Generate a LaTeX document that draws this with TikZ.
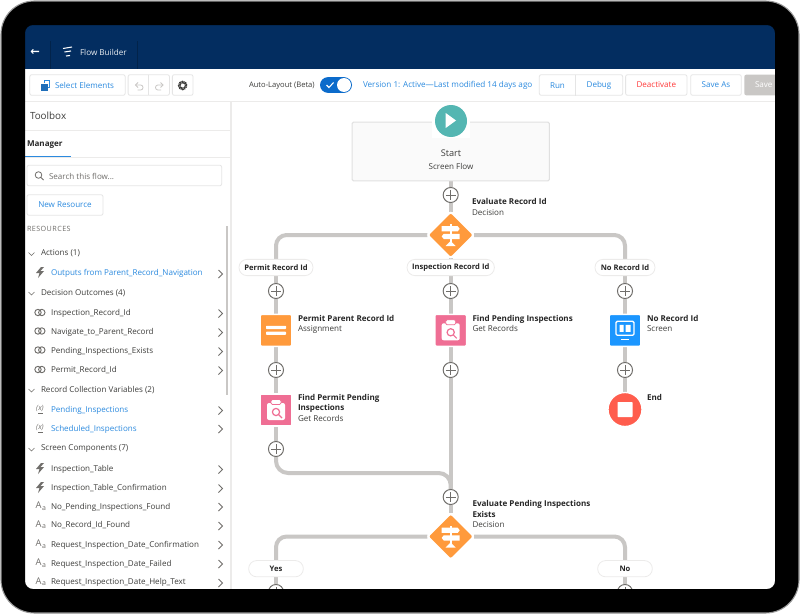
\documentclass[tikz,border=0pt]{standalone}
\usepackage{fontspec}
\setmainfont{Open Sans}
\newfontfamily\dejavu{DejaVu Sans}
\usetikzlibrary{shapes.geometric,arrows.meta}
\pgfdeclarelayer{bgl}
\pgfdeclarelayer{linkl}
\pgfsetlayers{bgl,linkl,main}
\definecolor{navy}{HTML}{032D60}
\definecolor{navyd}{HTML}{02234A}
\definecolor{linkblue}{HTML}{2B8ADF}
\definecolor{rule}{HTML}{ECEBEA}
\definecolor{btn}{HTML}{E5E5E5}
\definecolor{flowgray}{HTML}{C9C7C5}
\definecolor{orangeel}{HTML}{FF9A3C}
\definecolor{pinkel}{HTML}{EF6E94}
\definecolor{blueel}{HTML}{1B96FF}
\definecolor{redel}{HTML}{FF5D4D}
\definecolor{tealel}{HTML}{54B6B2}
\definecolor{txt}{HTML}{3E3E3C}
\definecolor{ico}{HTML}{706E6B}
\definecolor{togglec}{HTML}{0B6BCB}
\newcommand\fsm{\fontsize{6.05pt}{7.9pt}\selectfont}
\newcommand\fss{\fontsize{5.7pt}{7.9pt}\selectfont}
\newcommand\fsb{\fontsize{6.05pt}{7.9pt}\selectfont\bfseries}
\tikzset{
  x=.75pt,y=-.75pt,
  every node/.style={inner sep=0pt,outer sep=0pt},
  flowline/.style={draw=flowgray,line width=3pt},
  plusnode/.style={circle,draw=ico,fill=white,line width=.75pt,minimum size=11.3pt,
    path picture={\draw[ico,line width=.7pt] ([xshift=-3.6pt]path picture bounding box.center)--([xshift=3.6pt]path picture bounding box.center) ([yshift=-3.6pt]path picture bounding box.center)--([yshift=3.6pt]path picture bounding box.center);}},
  pill/.style={rectangle,rounded corners=6pt,draw=rule,fill=white,line width=.6pt,minimum height=12.2pt,font=\fss\bfseries,text=black!85},
  elem/.style={rectangle,rounded corners=1pt,minimum size=24pt,draw=white,line width=1.2pt},
  dec/.style={diamond,aspect=1,minimum size=35pt,fill=orangeel,draw=white,line width=1.5pt,rounded corners=2pt},
  lab/.style={anchor=north west,align=left,font=\fsm,text=txt,yshift=-1.9pt},
  btnbox/.style={rectangle,rounded corners=1.5pt,draw=btn,fill=white,line width=.6pt,minimum height=15.5pt},
  btntext/.style={font=\fsm,text=linkblue},
  rowtext/.style={anchor=west,font=\fsm,text=txt,yshift=-.7pt},
  chevr/.pic={\draw[ico,line width=.6pt] (-2,-4)--(2,0)--(-2,4);},
  chevd/.pic={\draw[ico,line width=.5pt] (-3,-1.5)--(0,1.5)--(3,-1.5);},
  bolt/.pic={\fill[ico] (1,-5)--(-4,1)--(-.5,1)--(-2,6)--(4,-1)--(.5,-1)--(4,-5)--cycle;},
  linkic/.pic={\draw[ico,line width=.7pt] (-2,0) circle (3.2) (1.8,0) circle (3.2);},
  varic/.pic={\node[font=\fontsize{5.4pt}{6pt}\selectfont\itshape,text=ico] at (0,-.5) {(x)};\fill[ico] (-2.5,3.5) rectangle (2.5,5);},
  aaic/.pic={\node[font=\fontsize{7pt}{7pt}\selectfont,text=ico] at (-1.5,-.5) {A};\node[font=\fontsize{5.2pt}{6pt}\selectfont,text=ico] at (4,2.5) {a};},
  signic/.pic={\fill[white] (-1,-11) rectangle (1,7);
    \fill[white] (-9,-8.8)--(7,-8.8)--(9,-6.2)--(7,-3.6)--(-9,-3.6)--cycle;
    \fill[white] (9,-1.2)--(-7,-1.2)--(-9,1.4)--(-7,4)--(9,4)--cycle;
    \fill[white] (-5,11)--(0,6)--(5,11)--cycle;},
  recic/.pic={\fill[white,rounded corners=1.5pt] (-9,-7) rectangle (9,10);
    \fill[white,draw=pinkel,line width=.6pt,rounded corners=1pt] (-5,-10.5) rectangle (5,-5.5);
    \draw[pinkel,line width=.9pt] (0,2) circle (3.6) (2.7,4.7)--(6,8);},
  asgic/.pic={\fill[white,rounded corners=.5pt] (-10,-4.5) rectangle (10,-1.2) (-10,1.3) rectangle (10,4.6);},
  scric/.pic={\draw[white,line width=1pt,rounded corners=1pt] (-9,-9) rectangle (9,5);
    \fill[white] (-5.5,-5.5) rectangle (-1.5,1.5) (.5,-5.5) rectangle (5.5,1.5);
    \fill[white] (-4,8.5) rectangle (4,10);},
}
\newcommand\resrow[6]{% name,y,text,colour,icon pic,chevron y
  \node[rowtext,text=#4] (#1) at (51,#2) {#3};
  \pic at (40,#2) {#5};
  \pic at (220.5,#6) {chevr};
}
\newcommand\reshead[3]{% name,y,text
  \node[rowtext] (#1) at (41,#2) {#3};
  \pic at (31.5,#2+1.5) {chevd};
}
\begin{document}
\begin{tikzpicture}
\useasboundingbox (0,0) rectangle (800,614);
% screen background
\begin{pgfonlayer}{bgl}
  \fill[white] (0,0) rectangle (800,614);
  \fill[navy] (25,25) rectangle (775,69);
  \draw[rule,line width=1pt] (25,101.5) -- (775,101.5);
  \draw[rule,line width=1pt] (231,101) -- (231,589);
  \draw[rule,line width=.7pt] (25,130) -- (231,130);
  \draw[rule,line width=.7pt] (25,157) -- (231,157);
  \draw[navyd,line width=.6pt] (50.5,41) -- (50.5,69) (137.5,41) -- (137.5,69);
  \fill[linkblue] (25,155.5) rectangle (71,157);
  \fill[flowgray] (226,226) rectangle (228,395);
\end{pgfonlayer}
% header
\node[font=\dejavu\fontsize{8.5pt}{9pt}\selectfont\bfseries,text=white] (backarrow) at (35,52) {←};
\draw[white,line width=.8pt,rounded corners=.5pt] (63,48.5)--(72,47) (64.5,52)--(71,51) (66,56)--(70,55.5);
\node[anchor=west,font=\fontsize{6.1pt}{7pt}\selectfont,text=white!92!navy] (title) at (80,52.5) {Flow Builder};
% toolbar
\node[btnbox,minimum width=71.5pt] (selbtn) at (77.5,85) {};
\fill[linkblue!70!navy] (41,84) rectangle (47.5,90.5);
\draw[linkblue,line width=.6pt] (44,83)--(44,80.5)--(49.5,80.5)--(49.5,87)--(48,87);
\node[anchor=west,btntext] (seltext) at (55,85) {Select Elements};
\node[btnbox,minimum width=31pt] (undo) at (148.8,85) {};
\draw[btn,line width=.6pt] (undo.north) -- (undo.south);
\draw[flowgray,line width=.6pt] (138,82.5)--(135.5,85)--(138,87.5);
\draw[flowgray,line width=.6pt,rounded corners=1.8pt] (135.5,85)--(143,85)--(143,90)--(137.5,90);
\draw[flowgray,line width=.6pt] (160.5,82.5)--(163,85)--(160.5,87.5);
\draw[flowgray,line width=.6pt,rounded corners=1.8pt] (163,85)--(155.5,85)--(155.5,90)--(161,90);
\node[btnbox,minimum width=15.5pt] (gearbtn) at (182.7,85) {};
\node[circle,draw=txt,line width=1.9pt,dash pattern=on .9pt off .4pt,minimum size=5.2pt,fill=white] (gear) at (182.7,85.5) {};
\node[anchor=west,font=\fontsize{5.7pt}{7pt}\selectfont,text=txt] (auto) at (249,86) {Auto-Layout (Beta)};
\node[rectangle,rounded corners=6pt,fill=togglec,minimum width=24pt,minimum height=11.8pt] (toggle) at (336,85) {};
\node[circle,fill=white,minimum size=10.5pt] (knob) at (344,85) {};
\draw[white,line width=.8pt] (326.5,85)--(329,87.5)--(333.5,82.5);
\node[anchor=west,font=\fontsize{6.1pt}{7pt}\selectfont,text=linkblue] (version) at (363,85) {Version 1: Active—Last modified 14 days ago};
\node[btnbox,minimum width=62.5pt] (rundebug) at (581,85) {};
\draw[btn,line width=.6pt] (575.5,74.5) -- (575.5,95.5);
\node[btntext] (run) at (557.5,85.3) {Run};
\node[btntext] (debug) at (599,85.3) {Debug};
\node[btnbox,minimum width=46pt,text=red!70!pink,font=\fsm] (deact) at (656.3,85) {Deactivate};
\node[btnbox,minimum width=38pt,btntext] (saveas) at (716,85) {Save As};
\node[rectangle,rounded corners=1.5pt,fill=flowgray,minimum width=40pt,minimum height=15.5pt] (savebtn) at (771,85) {};
\node[anchor=west,font=\fsm,text=white] (savetxt) at (755,85) {Save};
% toolbox
\node[anchor=west,font=\fontsize{7.4pt}{9pt}\selectfont,text=txt] (toolbox) at (30,116) {Toolbox};
\node[anchor=west,font=\fsb,text=black!85] (manager) at (27,144.5) {Manager};
\node[btnbox,minimum width=146pt,minimum height=15.5pt,anchor=west] (search) at (27,175.5) {};
\draw[ico,line width=.6pt] (38.5,175) circle (3.3) (41,177.5)--(43.5,180);
\node[anchor=west,font=\fsm,text=ico] (searchtxt) at (49,176.5) {Search this flow...};
\node[btnbox,minimum width=57pt,btntext] (newres) at (65,205) {New Resource};
\node[anchor=west,font=\fontsize{5.4pt}{7pt}\selectfont,text=ico] (resources) at (27,228.5) {\addfontfeatures{LetterSpace=6}RESOURCES};
\reshead{hA}{252.5}{Actions (1)}
\resrow{r1}{272}{Outputs from Parent\_Record\_Navigation}{linkblue}{bolt}{274}
\reshead{hB}{292}{Decision Outcomes (4)}
\resrow{r2}{312.5}{Inspection\_Record\_Id}{txt}{linkic}{313.5}
\resrow{r3}{331}{Navigate\_to\_Parent\_Record}{txt}{linkic}{332.5}
\resrow{r4}{350}{Pending\_Inspections\_Exists}{txt}{linkic}{351.5}
\resrow{r5}{369.5}{Permit\_Record\_Id}{txt}{linkic}{370.5}
\reshead{hC}{389}{Record Collection Variables (2)}
\resrow{r6}{409}{Pending\_Inspections}{linkblue}{varic}{410.5}
\resrow{r7}{428}{Scheduled\_Inspections}{linkblue}{varic}{429}
\reshead{hD}{448}{Screen Components (7)}
\resrow{r8}{468}{Inspection\_Table}{txt}{bolt}{469.5}
\resrow{r9}{487}{Inspection\_Table\_Confirmation}{txt}{bolt}{488.5}
\resrow{r10}{506}{No\_Pending\_Inspections\_Found}{txt}{aaic}{507}
\resrow{r11}{524.5}{No\_Record\_Id\_Found}{txt}{aaic}{526}
\resrow{r12}{544}{Request\_Inspection\_Date\_Confirmation}{txt}{aaic}{545}
\resrow{r13}{563}{Request\_Inspection\_Date\_Failed}{txt}{aaic}{564}
\resrow{r14}{581.5}{Request\_Inspection\_Date\_Help\_Text}{txt}{aaic}{583}
% flow nodes
\node[rectangle,rounded corners=1pt,draw=black!12,line width=.8pt,fill=black!2,minimum width=148pt,minimum height=44pt] (startbox) at (450.7,151.5) {};
\node[rectangle,fill=white,minimum width=28pt,minimum height=26pt] (starthalo) at (451,121) {};
\node[circle,fill=tealel,minimum size=24pt] (startc) at (451,121) {};
\fill[white] (445.7,113)--(445.7,128)--(456,120.5)--cycle;
\node[font=\fontsize{6.9pt}{8pt}\selectfont,text=txt] (starttxt) at (451,153.5) {Start};
\node[font=\fsm,text=txt] (startsub) at (451,166.5) {Screen Flow};
\node[plusnode] (p0) at (450.7,195) {};
\node[dec] (d1) at (450.7,235) {}; \pic at (d1) {signic};
\node[lab] (l1) at (472,196) {{\fsb\color{black!85}Evaluate Record Id}\\Decision};
\node[pill,minimum width=55.5pt] (o1) at (276,267.5) {Permit Record Id};
\node[pill,minimum width=65.5pt] (o2) at (450.7,267.5) {Inspection Record Id};
\node[pill,minimum width=45pt] (o3) at (625,267.5) {No Record Id};
\node[plusnode] (p1) at (276,291) {};
\node[plusnode] (p2) at (450.7,291) {};
\node[plusnode] (p3) at (625,291) {};
\node[elem,fill=orangeel] (e1) at (276,330.3) {}; \pic at (e1) {asgic};
\node[elem,fill=pinkel] (e2) at (450.7,330.3) {}; \pic at (e2) {recic};
\node[elem,fill=blueel] (e3) at (625,330.3) {}; \pic at (e3) {scric};
\node[lab] (l2) at (298,312.5) {{\fsb\color{black!85}Permit Parent Record Id}\\Assignment};
\node[lab] (l3) at (472.5,312.5) {{\fsb\color{black!85}Find Pending Inspections}\\Get Records};
\node[lab] (l4) at (647,312.5) {{\fsb\color{black!85}No Record Id}\\Screen};
\node[plusnode] (p4) at (276,370) {};
\node[plusnode] (p5) at (450.7,370) {};
\node[plusnode] (p6) at (625,370) {};
\node[elem,fill=pinkel] (e4) at (276,410) {}; \pic at (e4) {recic};
\node[lab] (l5) at (298,391.5) {{\fsb\color{black!85}Find Permit Pending}\\{\fsb\color{black!85}Inspections}\\Get Records};
\node[circle,fill=redel,draw=white,line width=1pt,minimum size=25.5pt] (e5) at (625,409.5) {};
\fill[white,rounded corners=.5pt] (617.5,402) rectangle (632.5,417);
\node[lab] (l6) at (647,391.5) {{\fsb\color{black!85}End}};
\node[plusnode] (p7) at (276,449) {};
\coordinate (merge) at (450.7,473);
\node[plusnode] (p8) at (450.7,497) {};
\node[dec] (d2) at (450.7,536.5) {}; \pic at (d2) {signic};
\node[lab] (l7) at (472.5,498) {{\fsb\color{black!85}Evaluate Pending Inspections}\\{\fsb\color{black!85}Exists}\\Decision};
\node[pill,minimum width=41pt] (o4) at (276,568.7) {Yes};
\node[pill,minimum width=41pt] (o5) at (625,568.7) {No};
\node[plusnode] (p9) at (276,592) {};
\node[plusnode] (p10) at (625,592) {};
% connectors
\begin{pgfonlayer}{linkl}
  \draw[flowline] (startbox) -- (p0);
  \draw[flowline] (p0) -- (d1);
  \draw[flowline,rounded corners=8pt] (d1) -| (o1);
  \draw[flowline,rounded corners=8pt] (d1) -| (o3);
  \draw[flowline] (d1) -- (o2);
  \draw[flowline] (o1) -- (p1);
  \draw[flowline] (o2) -- (p2);
  \draw[flowline] (o3) -- (p3);
  \draw[flowline] (p1) -- (e1);
  \draw[flowline] (p2) -- (e2);
  \draw[flowline] (p3) -- (e3);
  \draw[flowline] (e1) -- (p4);
  \draw[flowline] (e2) -- (p5);
  \draw[flowline] (e3) -- (p6);
  \draw[flowline] (p4) -- (e4);
  \draw[flowline] (p6) -- (e5);
  \draw[flowline] (e4) -- (p7);
  \draw[flowline] (p5) -- (p8);
  \draw[flowline,rounded corners=9pt] (p7) |- (merge) -- (p8);
  \draw[flowline] (p8) -- (d2);
  \draw[flowline,rounded corners=8pt] (d2) -| (o4);
  \draw[flowline,rounded corners=8pt] (d2) -| (o5);
  \draw[flowline] (o4) -- (p9);
  \draw[flowline] (o5) -- (p10);
\end{pgfonlayer}
% device frame
\fill[white,even odd rule] (0,0) rectangle (800,614) [rounded corners=25pt] (1,1) rectangle (799,613);
\fill[black,even odd rule] [rounded corners=25pt] (1,1) rectangle (799,613) [rounded corners=6pt] (25,25) rectangle (775,589);
\draw[black!40,line width=.8pt,rounded corners=25pt] (1,1) rectangle (799,613);
\end{tikzpicture}
\end{document}
